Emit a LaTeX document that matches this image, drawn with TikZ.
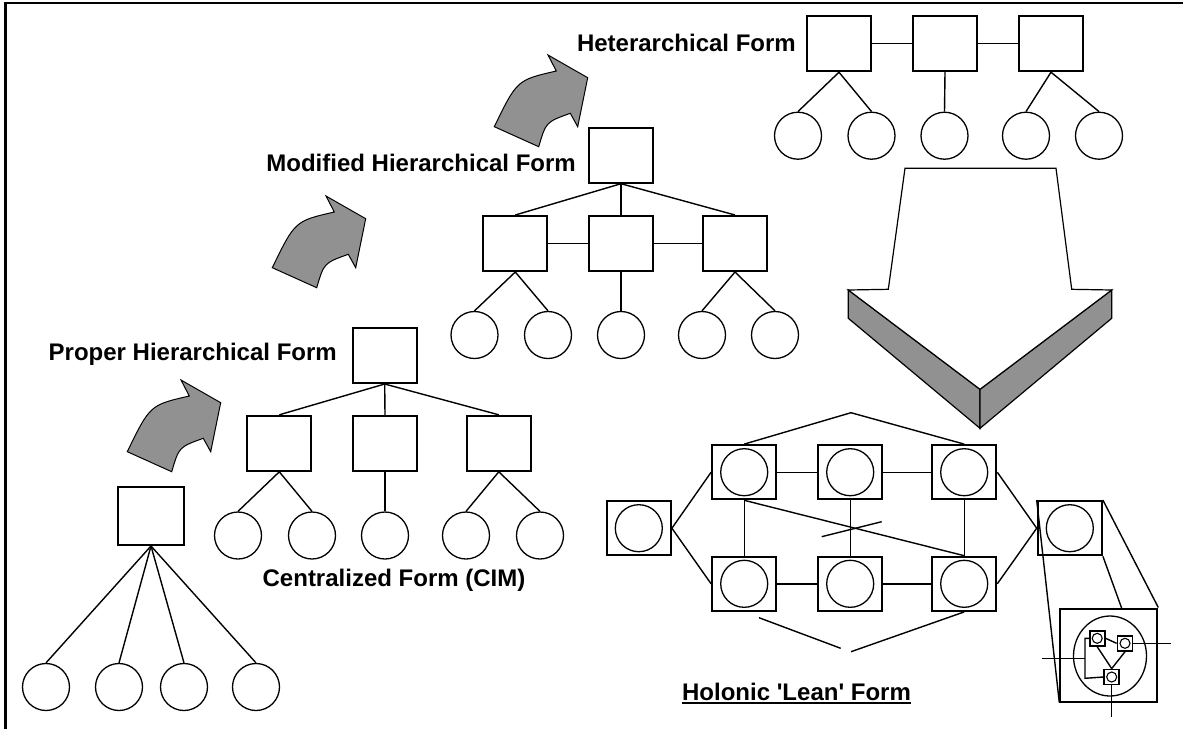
\documentclass[tikz,border=0pt]{standalone}
\usepackage{fontspec}
\setmainfont{Liberation Sans}
\usetikzlibrary{shapes.geometric}
\definecolor{arrowgray}{RGB}{145,145,145}
% straight apostrophe glyph, taken directly from the font
\newcommand{\straightquote}{\XeTeXglyph\XeTeXglyphindex "quotesingle" \relax}
\begin{document}
\begin{tikzpicture}[x=1pt,y=-1pt,
  unit/.style={draw,line width=2pt,minimum width=64pt,minimum height=55pt,inner sep=0pt},
  leaf/.style={draw,line width=1.3pt,circle,minimum size=47pt,inner sep=0pt},
  holon/.style={draw,line width=2.2pt,minimum width=64pt,minimum height=54pt,inner sep=0pt},
  core/.style={draw,line width=1.3pt,circle,minimum size=47pt,inner sep=0pt},
  mini/.style={draw,line width=1.8pt,minimum size=15pt,inner sep=0pt},
  minicore/.style={draw,line width=1.1pt,circle,minimum size=10pt,inner sep=0pt},
  link/.style={line width=1.4pt},
  formlabel/.style={font=\bfseries\fontsize{24}{28}\selectfont,inner sep=0pt},
  blockarrow/.style={draw=black,line width=1pt,fill=arrowgray,line join=miter}]
\useasboundingbox (0,0) rectangle (1183,729);

% frame
\draw[line width=2.5pt] (5.3,729) -- (5.3,3) -- (1183,3);

% curved block arrows between the stages
\foreach \dx/\dy in {0/0, 145/-184, 367/-325}{
  \begin{scope}[shift={(\dx,\dy)}]
    \draw[blockarrow] (127.3,451.7) .. controls (150,405) .. (189.3,396)
      -- (181,380) -- (220.7,402.7) -- (210.7,451.7) -- (203.3,438.3)
      .. controls (179,447) .. (171.7,471.7) -- cycle;
  \end{scope}
}

% centralized form
\node[unit,minimum width=66pt,minimum height=58pt] (c0) at (151,516) {};
\node[leaf] (c1) at (46,687) {};
\node[leaf] (c2) at (119,687) {};
\node[leaf] (c3) at (184,687) {};
\node[leaf] (c4) at (256,687) {};
\foreach \i in {1,...,4} \draw[link] (c0.south) -- (c\i.north);
\node[formlabel,anchor=base] (clabel) at (394,586) {Centralized Form (CIM)};

% proper hierarchical form
\node[unit] (p0) at (384.7,355.5) {};
\node[unit] (p1) at (279.3,443.3) {};
\node[unit] (p2) at (385,443.3) {};
\node[unit] (p3) at (498.8,443.3) {};
\node[leaf] (pa) at (238,535.5) {};
\node[leaf] (pb) at (312,535.5) {};
\node[leaf] (pc) at (385,535.5) {};
\node[leaf] (pd) at (466,535.5) {};
\node[leaf] (pe) at (540,535.5) {};
\foreach \i in {1,2,3} \draw[link] (p0.south) -- (p\i.north);
\draw[link] (pa.north) -- (p1.south) -- (pb.north);
\draw[link] (p2.south) -- (pc.north);
\draw[link] (pd.north) -- (p3.south) -- (pe.north);
\node[formlabel,anchor=base east] (plabel) at (337,360) {Proper Hierarchical Form};

% modified hierarchical form
\node[unit] (m0) at (621,155.2) {};
\node[unit] (m1) at (515.3,243.5) {};
\node[unit] (m2) at (621,243.5) {};
\node[unit] (m3) at (735,243.5) {};
\node[leaf] (ma) at (474.5,335) {};
\node[leaf] (mb) at (548,335) {};
\node[leaf] (mc) at (621,335) {};
\node[leaf] (md) at (702,335) {};
\node[leaf] (me) at (775,335) {};
\foreach \i in {1,2,3} \draw[link] (m0.south) -- (m\i.north);
\draw[link] (m1.east) -- (m2.west) (m2.east) -- (m3.west);
\draw[link] (ma.north) -- (m1.south) -- (mb.north);
\draw[link] (m2.south) -- (mc.north);
\draw[link] (md.north) -- (m3.south) -- (me.north);
\node[formlabel,anchor=base east] (mlabel) at (576,171.5) {Modified Hierarchical Form};

% heterarchical form
\node[unit] (h1) at (839,43.7) {};
\node[unit] (h2) at (945,43.7) {};
\node[unit] (h3) at (1051,43.7) {};
\node[leaf] (ha) at (798,135.7) {};
\node[leaf] (hb) at (871.5,135.7) {};
\node[leaf] (hc) at (944.5,135.7) {};
\node[leaf] (hd) at (1026,135.7) {};
\node[leaf] (he) at (1099,135.7) {};
\draw[link] (h1.east) -- (h2.west) (h2.east) -- (h3.west);
\draw[link] (ha.north) -- (h1.south) -- (hb.north);
\draw[link] (h2.south) -- (hc.north);
\draw[link] (hd.north) -- (h3.south) -- (he.north);
\node[formlabel,anchor=base east] (hlabel) at (796,51.5) {Heterarchical Form};

% large extruded arrow
\draw[line width=1.2pt,fill=arrowgray,line join=miter]
  (848.3,290) -- (980,389.3) -- (980,428.3) -- (848.3,318.3) -- cycle;
\draw[line width=1.2pt,fill=arrowgray,line join=miter]
  (1111.7,290) -- (980,389.3) -- (980,428.3) -- (1111.7,318.3) -- cycle;
\draw[line width=1.2pt,fill=white,line join=miter]
  (905,168.3) -- (1056,168.3) -- (1071.7,289.3) -- (1111.7,290) -- (980,389.3)
  -- (848.3,290) -- (888.3,289.3) -- cycle;

% holonic form
\node[holon] (hl) at (638.8,528.2) {};
\node[holon] (o1) at (744.2,472.2) {};
\node[holon] (o2) at (850.2,472.2) {};
\node[holon] (o3) at (964.2,472.2) {};
\node[holon] (o4) at (744.2,583.8) {};
\node[holon] (o5) at (850.2,583.8) {};
\node[holon] (o6) at (964.2,583.8) {};
\node[holon] (hr) at (1069.8,528.2) {};
\foreach \n in {hl,o1,o2,o3,o4,o5,o6,hr} \node[core] (\n c) at (\n) {};
\draw[link] (o1.west) -- (hl.east) -- (o4.west);
\draw[link] (o3.east) -- (hr.west) -- (o6.east);
\draw[link] (o1.east) -- (o2.west) (o2.east) -- (o3.west);
\draw[link] (o4.east) -- (o5.west) (o5.east) -- (o6.west);
\draw[link] (o1.south) -- (o4.north) (o2.south) -- (o5.north) (o3.south) -- (o6.north);
\draw[link] (o1.south) -- (o6.north);
\coordinate (xa) at (821.7,536.7);
\coordinate (xb) at (881.7,521.7);
\draw[link] (xa) -- (xb);
\coordinate (peak) at (851,412.7);
\draw[link] (o1.north) -- (peak) -- (o3.north);
\coordinate (va) at (759,617.7);
\coordinate (vb) at (840.7,648.3);
\coordinate (vc) at (851,651.7);
\draw[link] (va) -- (vb);
\draw[link] (vc) -- (o6.south);
\node[formlabel,anchor=base] (olabel) at (796.5,700) {Holonic \straightquote Lean\straightquote{} Form};
\draw[line width=2pt] ([yshift=-3pt]olabel.base west) -- ([yshift=-3pt]olabel.base east);

% enlarged holon
\node[draw,line width=2pt,minimum width=97pt,minimum height=93pt,inner sep=0pt] (bz) at (1108.8,655) {};
\draw[link] (hr.north east) -- (bz.north east);
\coordinate (bt) at (1121.7,608.3);
\draw[link] (hr.south east) -- (bt);
\draw[link] (hr.north west) -- (bz.south west);
\node[draw,line width=1.3pt,ellipse,minimum width=73pt,minimum height=80pt,inner sep=0pt] (bzc) at (1110,656) {};
\node[mini] (s1) at (1097.2,638.3) {};
\node[mini] (s2) at (1125,643.3) {};
\node[mini] (s3) at (1111.7,677) {};
\foreach \n in {s1,s2,s3} \node[minicore] at (\n) {};
\draw[link] (s1.east) -- (s2.west);
\draw[link] (s1.south) -- (s3.north) -- (s2.south);
\coordinate (bk1) at (1085,638.3);
\coordinate (bk2) at (1085,678.3);
\coordinate (lin) at (1041.7,658.3);
\coordinate (lmid) at (1085,658.3);
\coordinate (rout) at (1170.7,643.3);
\coordinate (bout) at (1111.7,716.7);
\draw[link] (s1.west) -- (bk1) -- (bk2) -- (s3.west);
\draw[link] (lin) -- (lmid);
\draw[link] (s2.east) -- (rout);
\draw[link] (s3.south) -- (bout);
\end{tikzpicture}
\end{document}
